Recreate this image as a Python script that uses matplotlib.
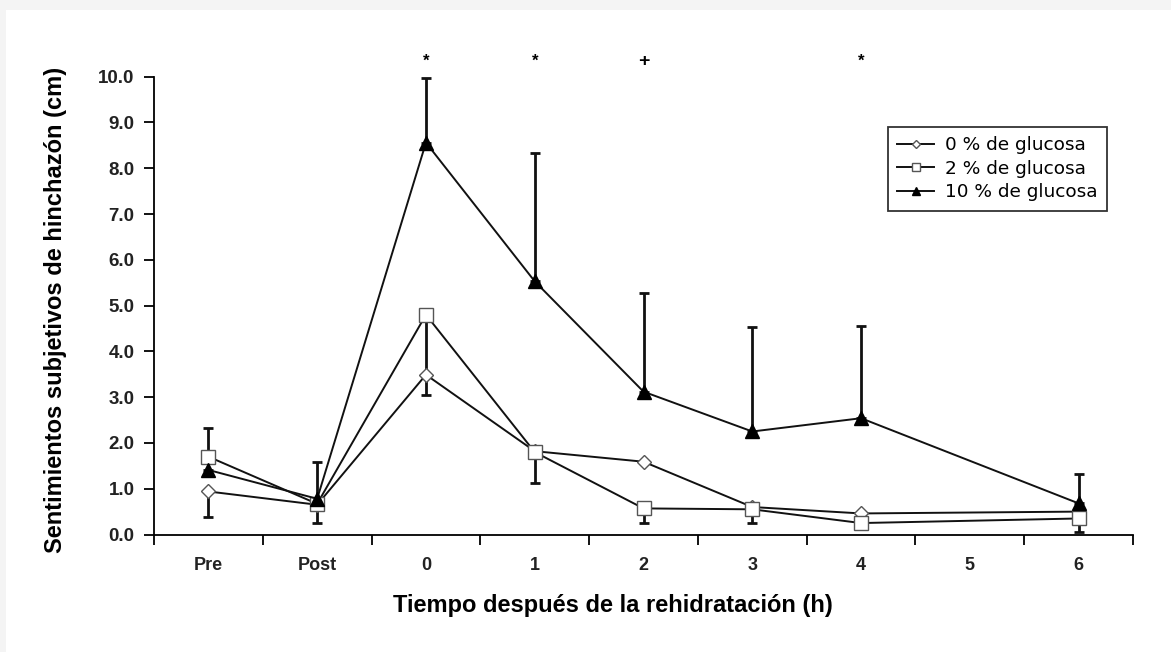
import matplotlib
matplotlib.use("Agg")
import matplotlib.pyplot as plt
import numpy as np

plt.rcParams['font.family'] = ['Liberation Sans', 'DejaVu Sans']

categories = ["Pre", "Post", "0", "1", "2", "3", "4", "5", "6"]
data_cats = ["Pre", "Post", "0", "1", "2", "3", "4", "6"]

glu0 = [0.94, 0.65, 3.49, 1.82, 1.59, 0.60, 0.46, 0.50]
glu2 = [1.70, 0.67, 4.80, 1.80, 0.57, 0.55, 0.25, 0.35]
glu10 = [1.41, 0.78, 8.56, 5.53, 3.12, 2.25, 2.54, 0.68]

err0_low = [0.55, 0, 0, 0, 0, 0, 0, 0]
err2_low = [0, 0.41, 1.76, 0.67, 0.32, 0.30, 0, 0.29]
err10_up = [0.92, 0.81, 1.42, 2.81, 2.16, 2.28, 2.02, 0.64]

sig_cats = ["0", "1", "2", "4"]
sig_marks = ["*", "*", "+", "*"]

labels = ["0 % de glucosa", "2 % de glucosa", "10 % de glucosa"]

fig = plt.figure(figsize=(11.71, 6.52), dpi=100)
fig.patch.set_facecolor("#f4f4f4")
# white panel
fig.patches.append(plt.Rectangle((6/1171, 0), 1 - 6/1171, 1 - 10/652,
                                 transform=fig.transFigure, facecolor="white",
                                 edgecolor="none", zorder=-10))

ax = fig.add_axes([154/1171, 1 - 534.5/652, (1133 - 154)/1171, (534.5 - 76.7)/652])
ax.set_facecolor("white")

xpos = [categories.index(c) for c in data_cats]
zero = [0] * len(xpos)

lw = 1.4
ax.errorbar(xpos, glu0, yerr=[err0_low, zero], fmt="none", ecolor="#111111",
            elinewidth=2, capsize=3.6, capthick=2, zorder=2)
ax.errorbar(xpos, glu2, yerr=[err2_low, zero], fmt="none", ecolor="#111111",
            elinewidth=2, capsize=3.6, capthick=2, zorder=2)
ax.errorbar(xpos, glu10, yerr=[zero, err10_up], fmt="none", ecolor="#111111",
            elinewidth=2, capsize=3.6, capthick=2, zorder=2)

ax.plot(xpos, glu0, color="#111111", lw=lw, marker="D", ms=7.5, mfc="white",
        mec="#555555", mew=1.0, label=labels[0], zorder=3)
ax.plot(xpos, glu2, color="#111111", lw=lw, marker="s", ms=10, mfc="white",
        mec="#555555", mew=1.0, label=labels[1], zorder=4)
ax.plot(xpos, glu10, color="#111111", lw=lw, marker="^", ms=10, mfc="black",
        mec="black", mew=1.0, label=labels[2], zorder=5)

for c, m in zip(sig_cats, sig_marks):
    ax.text(categories.index(c), 10.33, m, ha="center", va="center",
            fontsize=12 if m == "*" else 14, fontweight="bold", clip_on=False)

ax.set_xlim(-0.5, len(categories) - 0.5)
ax.set_ylim(0, 10)
ax.set_xticks(range(len(categories)))
ax.set_xticklabels(categories, fontsize=13, fontweight="bold", color="#222222")
ax.set_xticks(np.arange(-0.5, len(categories), 1.0), minor=True)
ax.tick_params(axis="x", which="major", length=0, pad=16)
ax.tick_params(axis="x", which="minor", length=7, width=1.3, direction="out")
ax.set_yticks(np.arange(0, 10.01, 1.0))
ax.set_yticklabels([f"{v:.1f}" for v in np.arange(0, 10.01, 1.0)], fontsize=13.5,
                   fontweight="bold", color="#222222")
ax.tick_params(axis="y", length=7, width=1.3, direction="out", pad=7)

for s in ["top", "right"]:
    ax.spines[s].set_visible(False)
for s in ["left", "bottom"]:
    ax.spines[s].set_linewidth(1.3)

ax.set_xlabel("Tiempo después de la rehidratación (h)", fontsize=17,
              fontweight="bold")
ax.xaxis.set_label_coords(0.469, -0.130)
ax.set_ylabel("Sentimientos subjetivos de hinchazón (cm)", fontsize=17,
              fontweight="bold")
ax.yaxis.set_label_coords(-0.089, 0.49)

leg = ax.legend(loc="upper left", bbox_to_anchor=(0.7497, 0.890),
                prop={"family": "DejaVu Sans", "size": 13.3},
                frameon=True, fancybox=False, edgecolor="black", handlelength=2.0,
                borderpad=0.5, labelspacing=0.3, handletextpad=0.6,
                markerscale=0.6, borderaxespad=0)
leg.get_frame().set_linewidth(1.3)

fig.savefig("out.png", dpi=100, facecolor=fig.get_facecolor())
